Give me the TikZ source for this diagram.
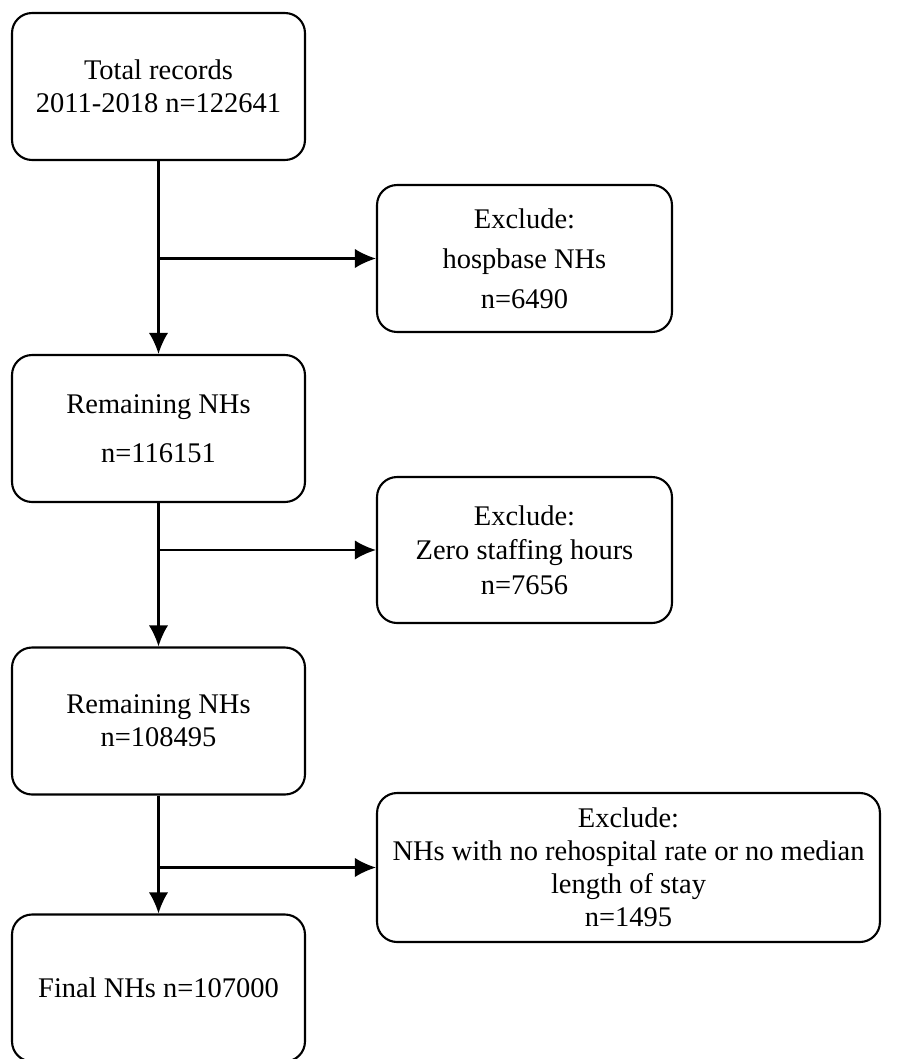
\documentclass[tikz,border=0pt]{standalone}
\usepackage{fontspec}
\setmainfont{Liberation Serif}
\usepackage{tikz}
\usetikzlibrary{arrows.meta}
\tikzset{>={Latex[length=12pt,width=11pt]}}
\tikzset{
    stage/.style={draw, line width=1.2pt, rounded corners=0.4cm, align=center,
        minimum width=5.86cm, minimum height=2.94cm, inner sep=0pt,
        font=\fontsize{16.2}{18.7}\selectfont},
    cut/.style={stage, minimum width=5.9cm},
    flow/.style={->, line width=1.2pt}
}

\begin{document}
\begin{tikzpicture}[x=0.02cm, y=-0.02cm]
        \useasboundingbox (0, 0) rectangle (906, 1059);
        % main column
        \node[stage] (total) at (158.5, 86.5) {Total records\\2011-2018 n=122641};
        \node[stage] (remainA) at (158.5, 428.5) {Remaining NHs\\[9.5pt]n=116151};
        \node[stage] (remainB) at (158.5, 721) {Remaining NHs\\n=108495};
        \node[stage] (final) at (158.5, 988) {Final NHs n=107000};
        % exclusions
        \node[cut] (exclA) at (524.5, 258.5) {Exclude:\\[4pt]hospbase NHs\\[4pt]n=6490};
        \node[cut, minimum height=2.92cm] (exclB) at (524.5, 550) {Exclude:\\[1pt]Zero staffing hours\\[1pt]n=7656};
        \node[cut, minimum width=10.06cm, minimum height=2.98cm] (exclC) at (628.5, 867.5)
            {Exclude:\\NHs with no rehospital rate or no median\\length of stay\\n=1495};
        % connectors
        \draw[flow] (total) -- (remainA);
        \draw[flow] (remainA) -- (remainB);
        \draw[flow] (remainB) -- (final);
        \coordinate (splitA) at (total.south |- exclA.west);
        \coordinate (splitB) at (remainA.south |- exclB.west);
        \coordinate (splitC) at (remainB.south |- exclC.west);
        \draw[flow] (splitA) -- (exclA);
        \draw[flow] (splitB) -- (exclB);
        \draw[flow] (splitC) -- (exclC);
    \end{tikzpicture}
\end{document}
